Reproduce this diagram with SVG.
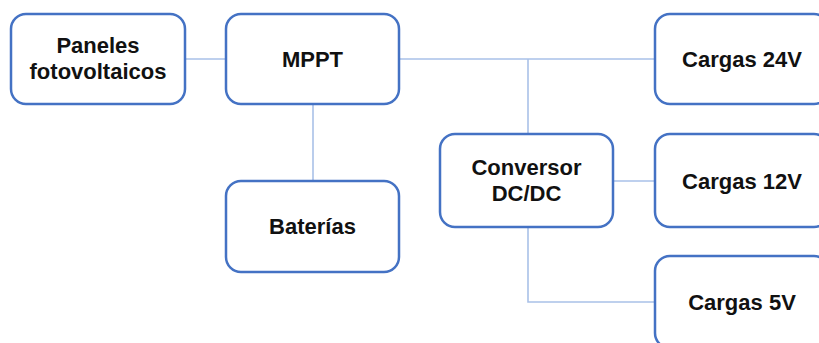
<svg xmlns="http://www.w3.org/2000/svg" width="819" height="343" viewBox="0 0 819 343">
<style>
.box{fill:#fff;stroke:#4472C4;stroke-width:2.5}
.lbl{font-family:"Liberation Sans",Arial,sans-serif;font-weight:bold;font-size:22px;fill:#111;text-anchor:middle}
.con{fill:none;stroke:#A9C1E8;stroke-width:1.6}
</style>
<rect width="819" height="343" fill="#fff"/>
<g id="connectors">
<line class="con" x1="185" y1="59" x2="226" y2="59"/>
<line class="con" x1="313" y1="104" x2="313" y2="181"/>
<line class="con" x1="399" y1="59" x2="655" y2="59"/>
<line class="con" x1="528" y1="59" x2="528" y2="134"/>
<line class="con" x1="613" y1="181" x2="655" y2="181"/>
<polyline class="con" points="528,227 528,302 655,302"/>
</g>
<g id="paneles">
<rect class="box" x="11" y="14" width="174" height="90" rx="15"/>
<text class="lbl" x="98" y="53">Paneles</text>
<text class="lbl" x="98" y="79">fotovoltaicos</text>
</g>
<g id="mppt">
<rect class="box" x="226" y="14" width="173" height="90" rx="15"/>
<text class="lbl" x="312.5" y="67">MPPT</text>
</g>
<g id="baterias">
<rect class="box" x="226" y="181" width="173" height="91" rx="15"/>
<text class="lbl" x="312.5" y="234">Baterías</text>
</g>
<g id="conversor">
<rect class="box" x="440" y="134" width="173" height="93" rx="15"/>
<text class="lbl" x="526.5" y="175">Conversor</text>
<text class="lbl" x="526.5" y="201">DC/DC</text>
</g>
<g id="cargas24">
<rect class="box" x="655" y="14" width="174" height="90" rx="15"/>
<text class="lbl" x="742" y="67">Cargas 24V</text>
</g>
<g id="cargas12">
<rect class="box" x="655" y="134" width="174" height="93" rx="15"/>
<text class="lbl" x="742" y="189">Cargas 12V</text>
</g>
<g id="cargas5">
<rect class="box" x="655" y="256" width="174" height="92" rx="15"/>
<text class="lbl" x="742" y="310">Cargas 5V</text>
</g>
</svg>
